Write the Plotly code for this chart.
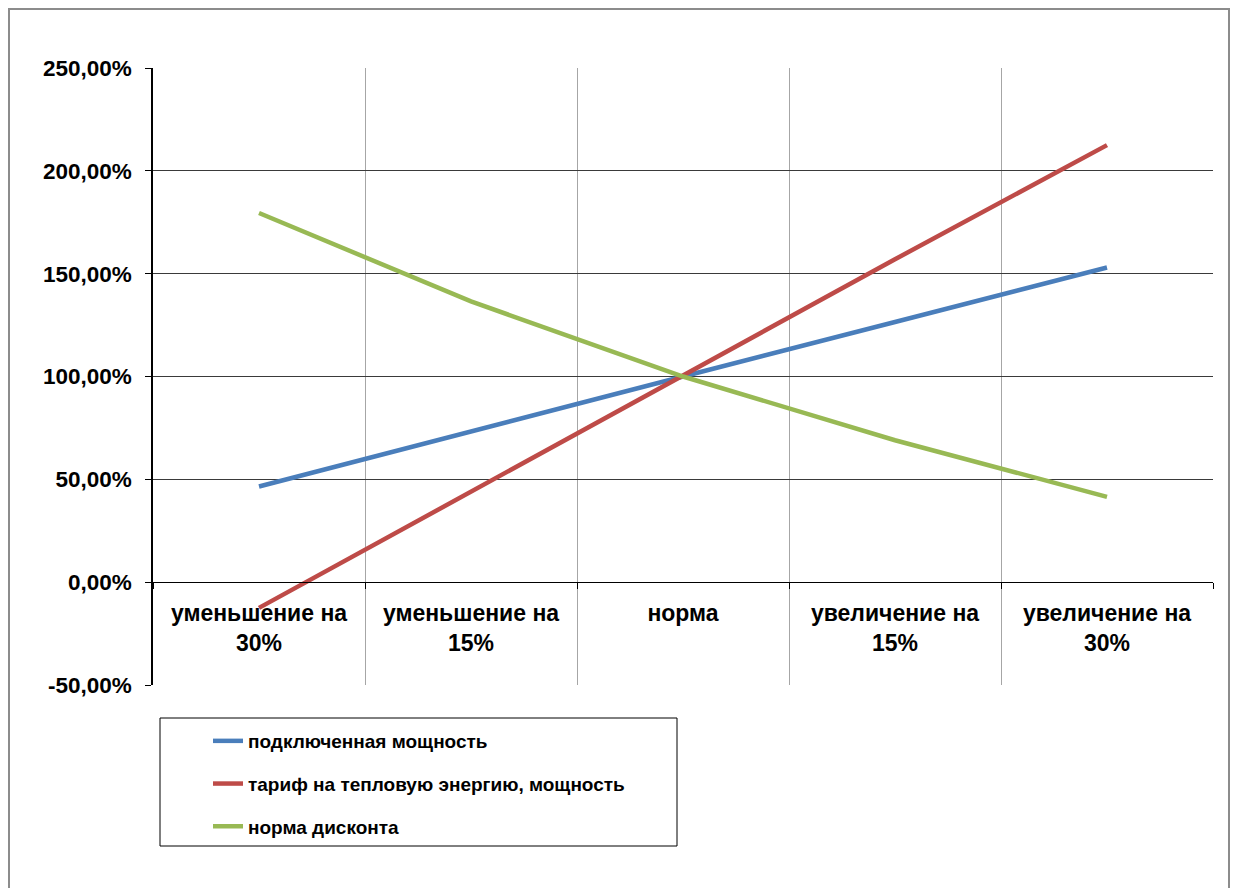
import plotly.graph_objects as go

# Scenario categories (x axis) and sensitivity series (share of baseline)
categories = [
    "уменьшение на<br>30%",
    "уменьшение на<br>15%",
    "норма",
    "увеличение на<br>15%",
    "увеличение на<br>30%",
]
series_names = [
    "подключенная мощность",
    "тариф на тепловую энергию, мощность",
    "норма дисконта",
]
connected_power = [0.465, 0.735, 1.00, 1.265, 1.53]
heat_tariff = [-0.125, 0.44, 1.00, 1.57, 2.125]
discount_rate = [1.795, 1.365, 1.00, 0.69, 0.415]
colors = ["#4A7EBB", "#BE4B48", "#98B954"]

y_tick_values = [-0.5, 0.0, 0.5, 1.0, 1.5, 2.0, 2.5]
y_tick_labels = ["-50,00%", "0,00%", "50,00%", "100,00%", "150,00%", "200,00%", "250,00%"]

# Canvas geometry (pixels)
W, H = 1239, 888
ML, MR, MT, MB = 153, 26, 68, 203
PW, PH = W - ML - MR, H - MT - MB


def px_x(x):
    return (x - ML) / PW


def px_y(y):
    return (H - MB - y) / PH


FONT = "Liberation Sans, Arial, sans-serif"

fig = go.Figure()
xs = list(range(len(categories)))
for i, (name, vals) in enumerate(zip(series_names, [connected_power, heat_tariff, discount_rate])):
    fig.add_trace(go.Scatter(
        x=xs, y=vals, name=name, mode="lines",
        line=dict(color=colors[i], width=4.5),
        legendgroup=f"g{i}",
    ))

fig.update_layout(
    width=W, height=H,
    margin=dict(l=ML, r=MR, t=MT, b=MB),
    paper_bgcolor="white", plot_bgcolor="white",
    font=dict(family=FONT, color="black"),
    showlegend=True,
    legend=dict(
        x=px_x(208), y=px_y(722), xanchor="left", yanchor="top",
        bgcolor="rgba(0,0,0,0)", borderwidth=0,
        font=dict(family=FONT, size=19, color="black", weight="bold"),
        tracegroupgap=15,
    ),
    xaxis=dict(
        range=[-0.5, 4.5],
        tickmode="array", tickvals=xs, ticktext=categories,
        ticks="", showgrid=False, zeroline=False,
        showline=True, linecolor="black", linewidth=1,
        anchor="free", position=1 / 6,
        tickfont=dict(family=FONT, size=23, color="black", weight="bold"),
        ticklabelstandoff=10,
        minor=dict(
            tickmode="array", tickvals=[k - 0.5 for k in range(len(categories) + 1)],
            showgrid=True, gridcolor="#A6A6A6", gridwidth=1,
            ticks="outside", ticklen=6, tickcolor="black", tickwidth=1,
        ),
    ),
    yaxis=dict(
        range=[-0.5, 2.5],
        tickmode="array", tickvals=y_tick_values, ticktext=y_tick_labels,
        showgrid=True, gridcolor="#3A3A3A", gridwidth=1,
        zeroline=False,
        showline=True, linecolor="black", linewidth=1.5,
        ticks="outside", ticklen=6, tickcolor="black",
        tickfont=dict(family=FONT, size=22.5, color="black", weight="bold"),
        ticklabelstandoff=9,
    ),
    shapes=[
        # outer chart frame
        dict(type="rect", xref="paper", yref="paper",
             x0=px_x(9), x1=px_x(1229), y0=px_y(900), y1=px_y(9),
             line=dict(color="#8C8C8C", width=2), layer="below"),
        # legend frame
        dict(type="rect", xref="paper", yref="paper",
             x0=px_x(160), x1=px_x(677), y0=px_y(846), y1=px_y(718),
             line=dict(color="black", width=1)),
    ],
)

fig.write_html("out.html")
